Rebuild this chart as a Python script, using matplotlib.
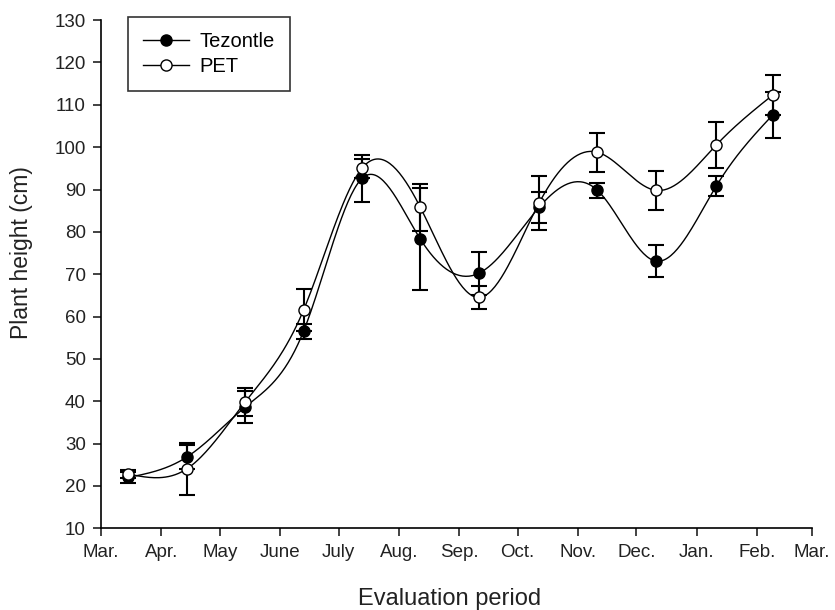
import numpy as np
import matplotlib
matplotlib.use("Agg")
import matplotlib.pyplot as plt

plt.rcParams['font.family'] = ['Liberation Sans', 'DejaVu Sans']

# days since Mar. 1 for each evaluation
days = [14, 44, 74, 104, 134, 164, 194, 225, 255, 285, 316, 345]

tezontle = [22.0, 26.8, 38.6, 56.5, 92.6, 78.3, 70.2, 85.8, 89.8, 73.1, 90.8, 107.6]
tezontle_err = [1.4, 2.8, 3.8, 1.8, 5.5, 12.0, 5.0, 3.6, 1.8, 3.8, 2.3, 5.4]

pet = [22.8, 24.0, 39.8, 61.5, 95.0, 85.8, 64.5, 86.8, 98.8, 89.8, 100.5, 112.3]
pet_err = [1.0, 6.2, 3.3, 5.0, 2.3, 5.5, 2.8, 6.3, 4.6, 4.6, 5.5, 4.8]

month_ticks = [0, 31, 61, 92, 122, 153, 184, 214, 245, 275, 306, 337, 365]
month_labels = ['Mar.', 'Apr.', 'May', 'June', 'July', 'Aug.', 'Sep.', 'Oct.',
                'Nov.', 'Dec.', 'Jan.', 'Feb.', 'Mar.']


def natural_spline(x, y, n=400):
    # natural cubic spline through the points, only for drawing the curve
    x = np.asarray(x, float)
    y = np.asarray(y, float)
    k = len(x)
    h = np.diff(x)
    A = np.zeros((k, k))
    b = np.zeros(k)
    A[0, 0] = A[-1, -1] = 1
    for i in range(1, k - 1):
        A[i, i - 1] = h[i - 1]
        A[i, i] = 2 * (h[i - 1] + h[i])
        A[i, i + 1] = h[i]
        b[i] = 6 * ((y[i + 1] - y[i]) / h[i] - (y[i] - y[i - 1]) / h[i - 1])
    M = np.linalg.solve(A, b)
    xs = np.linspace(x[0], x[-1], n)
    idx = np.clip(np.searchsorted(x, xs) - 1, 0, k - 2)
    x0, x1 = x[idx], x[idx + 1]
    hh = x1 - x0
    t0 = x1 - xs
    t1 = xs - x0
    ys = (M[idx] * t0 ** 3 / (6 * hh) + M[idx + 1] * t1 ** 3 / (6 * hh)
          + (y[idx] / hh - M[idx] * hh / 6) * t0
          + (y[idx + 1] / hh - M[idx + 1] * hh / 6) * t1)
    return xs, ys


fig = plt.figure(figsize=(8.35, 6.1), dpi=100)
ax = fig.add_axes([0.121, 0.134, 0.851, 0.833])

for vals, errs, face, lab in [(tezontle, tezontle_err, 'black', 'Tezontle'),
                              (pet, pet_err, 'white', 'PET')]:
    xs, ys = natural_spline(days, vals)
    ax.plot(xs, ys, color='black', lw=1.0, zorder=2)
    ax.errorbar(days, vals, yerr=errs, fmt='none', ecolor='black',
                elinewidth=1.5, capsize=5.5, capthick=1.5, zorder=3)
    ax.plot(days, vals, 'o', color='black', mfc=face, mec='black', mew=1.0,
            ms=8, zorder=4)
    ax.plot([], [], '-o', color='black', mfc=face, mec='black', lw=1.0,
            ms=8, label=lab)

ax.set_xlim(0, 365)
ax.set_ylim(10, 130)
ax.set_yticks(range(10, 131, 10))
ax.set_xticks(month_ticks)
ax.set_xticklabels(month_labels)
ax.tick_params(direction='out', length=6, width=1.2, labelsize=13.5,
               colors='#222222', pad=5)
for s in ['top', 'right']:
    ax.spines[s].set_visible(False)
for s in ['left', 'bottom']:
    ax.spines[s].set_linewidth(1.2)

ax.set_ylabel('Plant height (cm)', fontsize=16.5, color='#222222')
ax.yaxis.set_label_coords(-0.096, 0.543)
ax.set_xlabel('Evaluation period', fontsize=17, color='#222222')
ax.xaxis.set_label_coords(0.491, -0.118)

leg = ax.legend(loc='upper left', bbox_to_anchor=(0.038, 1.007), fontsize=14.5,
                frameon=True, fancybox=False, edgecolor='black',
                handlelength=2.3, handletextpad=0.5, borderpad=0.75,
                labelspacing=0.3, borderaxespad=0.0)
leg.get_frame().set_linewidth(1.2)

fig.savefig('out.png', dpi=100)
